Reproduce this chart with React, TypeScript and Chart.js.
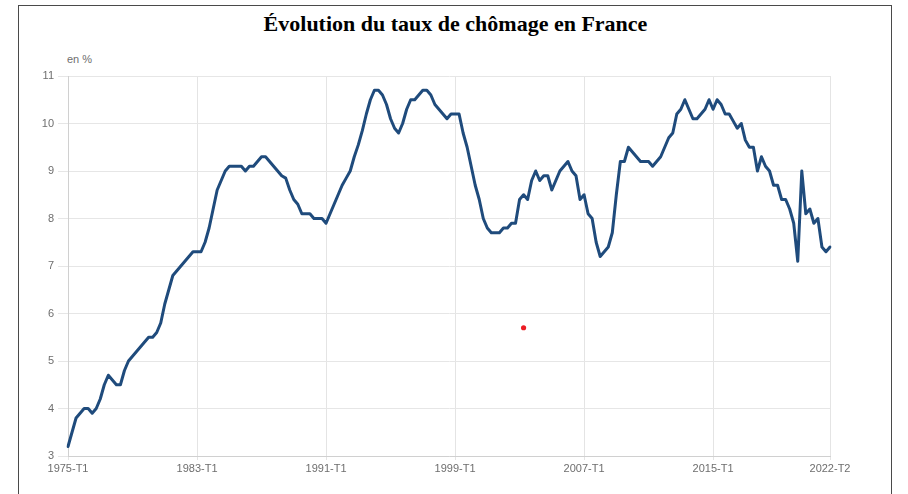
import React, { useEffect, useRef } from "react";
import { Chart, registerables } from "chart.js";

Chart.register(...registerables);

const TITLE = "Évolution du taux de chômage en France";
const UNIT_LABEL = "en %";

const START_YEAR = 1975;
const END_YEAR = 2022;
const END_QUARTER = 2;

// quarterly categories 1975-T1 .. 2022-T2
const CATEGORIES: string[] = [];
for (let y = START_YEAR; y <= END_YEAR; y++) {
  for (let q = 1; q <= 4; q++) {
    if (y === END_YEAR && q > END_QUARTER) break;
    CATEGORIES.push(`${y}-T${q}`);
  }
}

const UNEMPLOYMENT = [
  3.2, 3.5, 3.8, 3.9, 4.0, 4.0, 3.9, 4.0, 4.2, 4.5,
  4.7, 4.6, 4.5, 4.5, 4.8, 5.0, 5.1, 5.2, 5.3, 5.4,
  5.5, 5.5, 5.6, 5.8, 6.2, 6.5, 6.8, 6.9, 7.0, 7.1,
  7.2, 7.3, 7.3, 7.3, 7.5, 7.8, 8.2, 8.6, 8.8, 9.0,
  9.1, 9.1, 9.1, 9.1, 9.0, 9.1, 9.1, 9.2, 9.3, 9.3,
  9.2, 9.1, 9.0, 8.9, 8.85, 8.6, 8.4, 8.3, 8.1, 8.1,
  8.1, 8.0, 8.0, 8.0, 7.9, 8.1, 8.3, 8.5, 8.7, 8.85,
  9.0, 9.3, 9.55, 9.85, 10.2, 10.5, 10.7, 10.7, 10.6, 10.4,
  10.1, 9.9, 9.8, 10.0, 10.3, 10.5, 10.5, 10.6, 10.7, 10.7,
  10.6, 10.4, 10.3, 10.2, 10.1, 10.2, 10.2, 10.2, 9.8, 9.5,
  9.1, 8.7, 8.4, 8.0, 7.8, 7.7, 7.7, 7.7, 7.8, 7.8,
  7.9, 7.9, 8.4, 8.5, 8.4, 8.8, 9.0, 8.8, 8.9, 8.9,
  8.6, 8.8, 9.0, 9.1, 9.2, 9.0, 8.9, 8.4, 8.5, 8.1,
  8.0, 7.5, 7.2, 7.3, 7.4, 7.7, 8.5, 9.2, 9.2, 9.5,
  9.4, 9.3, 9.2, 9.2, 9.2, 9.1, 9.2, 9.3, 9.5, 9.7,
  9.8, 10.2, 10.3, 10.5, 10.3, 10.1, 10.1, 10.2, 10.3, 10.5,
  10.3, 10.5, 10.4, 10.2, 10.2, 10.05, 9.9, 10.0, 9.65, 9.5,
  9.5, 9.0, 9.3, 9.1, 9.0, 8.7, 8.7, 8.4, 8.4, 8.2,
  7.9, 7.1, 9.0, 8.1, 8.2, 7.9, 8.0, 7.4, 7.3, 7.4,
];

const X_TICK_LABELS = ["1975-T1", "1983-T1", "1991-T1", "1999-T1", "2007-T1", "2015-T1", "2022-T2"];
const Y_MIN = 3;
const Y_MAX = 11;
const Y_STEP = 1;

const MARKER_LABEL = "2003-T2";
const MARKER_VALUE = 5.7;

export default function App() {
  const ref = useRef<HTMLCanvasElement | null>(null);

  useEffect(() => {
    if (!ref.current) return;
    const markerData = CATEGORIES.map((c) => (c === MARKER_LABEL ? MARKER_VALUE : null));
    const chart = new Chart(ref.current, {
      type: "line",
      data: {
        labels: CATEGORIES,
        datasets: [
          {
            data: UNEMPLOYMENT,
            borderColor: "#1f4b7c",
            borderWidth: 3,
            pointRadius: 0,
            tension: 0,
            fill: false,
            borderJoinStyle: "round",
            borderCapStyle: "round",
          },
          {
            data: markerData,
            showLine: false,
            pointRadius: 2.6,
            pointBackgroundColor: "#ec1c24",
            pointBorderWidth: 0,
            borderColor: "#ec1c24",
          },
        ],
      },
      options: {
        responsive: false,
        animation: false,
        maintainAspectRatio: false,
        layout: { padding: { left: 24, right: 78, top: 76, bottom: 0 } },
        plugins: {
          legend: { display: false },
          tooltip: { enabled: false },
          title: { display: false },
        },
        scales: {
          x: {
            type: "category",
            offset: false,
            afterBuildTicks: (scale: any) => {
              scale.ticks = scale.ticks.filter((t: any) =>
                X_TICK_LABELS.includes(CATEGORIES[t.value])
              );
            },
            afterFit: (scale: any) => {
              scale.height = 38;
            },
            ticks: {
              autoSkip: false,
              maxRotation: 0,
              minRotation: 0,
              padding: 2,
              color: "#6e6e6e",
              font: { family: "Liberation Sans, Arial, sans-serif", size: 11 },
              callback: function (this: any, v: any) {
                return CATEGORIES[v as number];
              },
            },
            grid: { color: "#e4e4e4", tickLength: 4, drawTicks: true },
            border: { color: "#d0d0d0" },
          },
          y: {
            min: Y_MIN,
            max: Y_MAX,
            afterFit: (scale: any) => {
              scale.width = 44;
            },
            ticks: {
              stepSize: Y_STEP,
              padding: 4,
              color: "#6e6e6e",
              font: { family: "Liberation Sans, Arial, sans-serif", size: 11 },
            },
            grid: { color: "#e6e6e6", tickLength: 10 },
            border: { color: "#d0d0d0" },
          },
        },
      },
    });
    return () => chart.destroy();
  }, []);

  return (
    <div
      style={{
        position: "absolute",
        left: 0,
        top: 0,
        width: 908,
        height: 494,
        background: "#fff",
        overflow: "hidden",
      }}
    >
      <div
        style={{
          position: "absolute",
          left: 18,
          top: 5,
          width: 874,
          height: 520,
          border: "1px solid #4a4a4a",
          boxSizing: "border-box",
        }}
      />
      <div
        style={{
          position: "absolute",
          left: 18,
          width: 875,
          top: 10,
          textAlign: "center",
          fontFamily: "'Liberation Serif', 'Times New Roman', serif",
          fontWeight: "bold",
          fontSize: 22,
          lineHeight: "28px",
          color: "#000",
        }}
      >
        {TITLE}
      </div>
      <div
        style={{
          position: "absolute",
          left: 67,
          top: 52,
          fontFamily: "'Liberation Sans', Arial, sans-serif",
          fontSize: 11,
          lineHeight: "14px",
          color: "#6e6e6e",
        }}
      >
        {UNIT_LABEL}
      </div>
      <canvas
        ref={ref}
        width={908}
        height={494}
        style={{ position: "absolute", left: 0, top: 0, width: 908, height: 494 }}
      />
    </div>
  );
}
